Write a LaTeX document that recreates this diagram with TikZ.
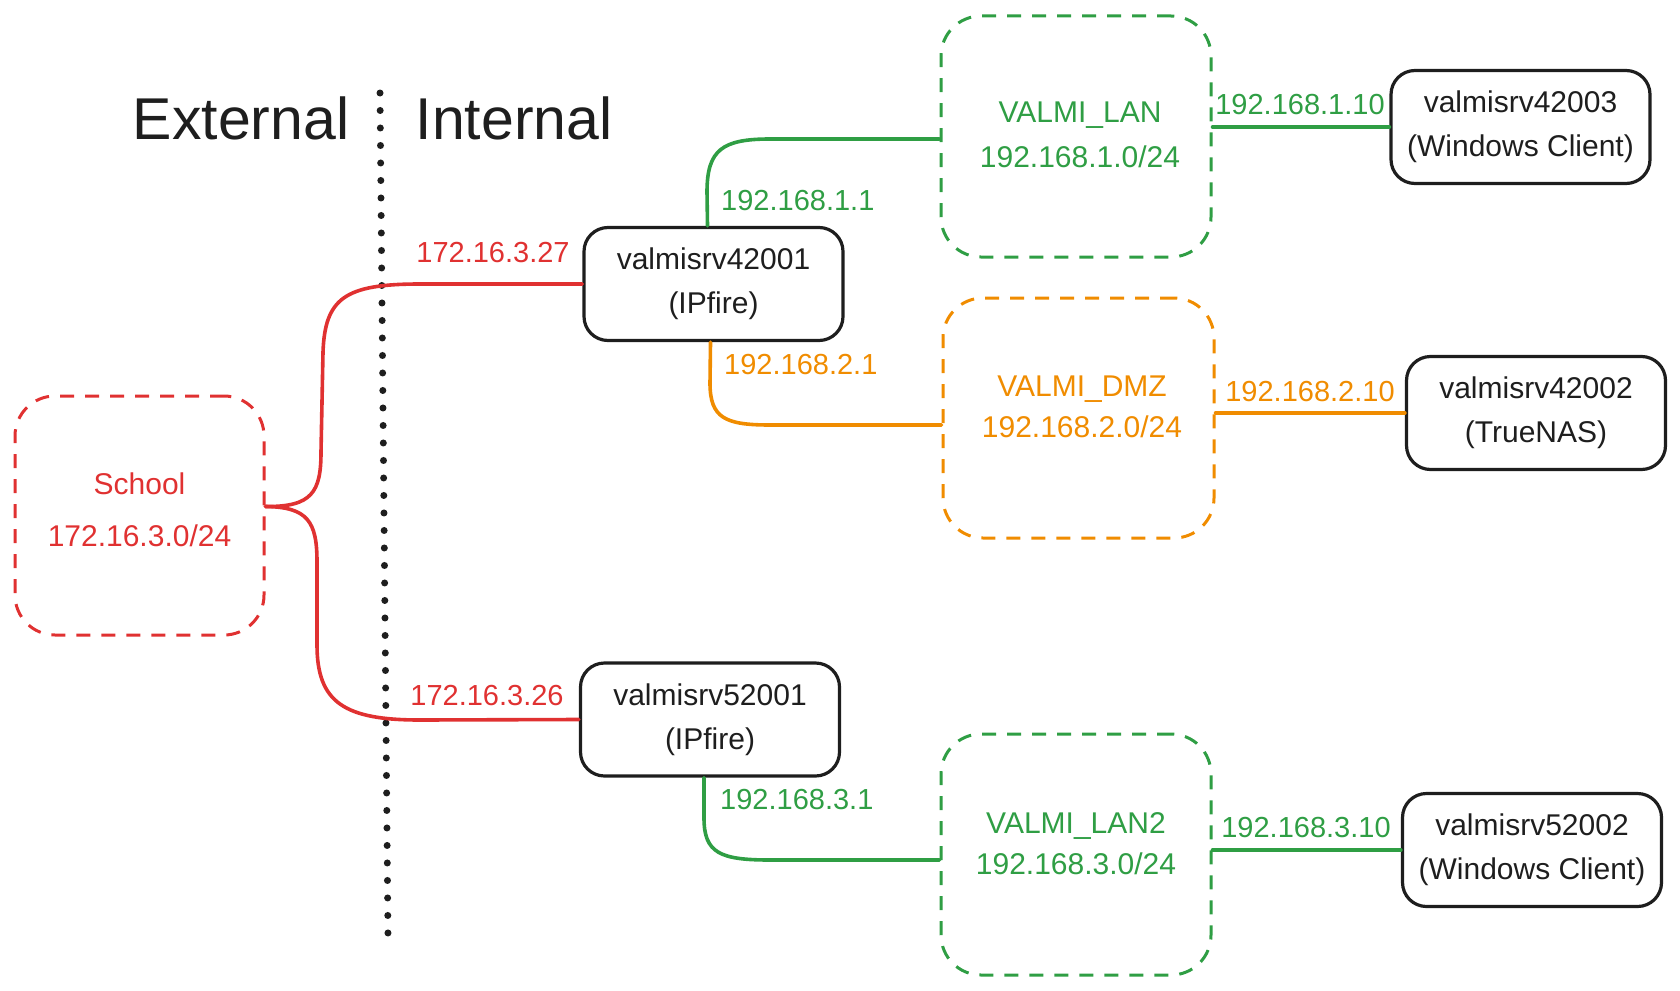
\documentclass[tikz,border=0pt]{standalone}
\usepackage{fontspec}
\setmainfont{Liberation Sans}
\definecolor{exred}{HTML}{E03131}
\definecolor{exgreen}{HTML}{2F9E44}
\definecolor{exorange}{HTML}{F08C00}
\definecolor{exblack}{HTML}{1E1E1E}
\tikzset{
  srv/.style={draw=exblack, line width=3.2pt, rounded corners=24pt, minimum width=259pt, minimum height=113pt,
    align=center, font=\fontsize{30}{44}\selectfont, text=exblack, inner sep=0pt},
  netbox/.style={line width=3pt, rounded corners=40pt, dash pattern=on 14pt off 11pt, inner sep=0pt},
  nettext/.style={align=center, font=\fontsize{30}{45}\selectfont, inner sep=0pt},
  ip/.style={font=\fontsize{29}{30}\selectfont, inner sep=0pt},
  title/.style={font=\fontsize{59}{60}\selectfont, text=exblack, inner sep=0pt},
  wire/.style={line width=3.6pt, line cap=round, line join=round},
}
\begin{document}
\begin{tikzpicture}[x=1pt,y=-1pt]
\useasboundingbox (0,0) rectangle (1680,990);
% titles and divider
\node[title] (ext) at (241,118) {External};
\node[title] (int) at (514,118) {Internal};
\coordinate (dtop) at (380,93);
\coordinate (dbot) at (388,937);
\draw[exblack, line width=7pt, line cap=round, dash pattern=on 0pt off 17.5pt] (dtop) -- (dbot);

% school
\node[netbox, draw=exred, minimum width=249pt, minimum height=239pt] (school) at (139.5,515.5) {};
\node[nettext, text=exred, font=\fontsize{30}{52}\selectfont] (schoolt) at (139.5,510) {School\\172.16.3.0/24};

% servers
\node[srv] (s1) at (713.5,284) {valmisrv42001\\(IPfire)};
\node[srv] (s2) at (710,719.5) {valmisrv52001\\(IPfire)};
\node[srv] (c3) at (1520.5,127) {valmisrv42003\\(Windows Client)};
\node[srv] (c2) at (1536,413) {valmisrv42002\\(TrueNAS)};
\node[srv] (c5) at (1532,850) {valmisrv52002\\(Windows Client)};

% networks
\node[netbox, draw=exgreen, minimum width=270pt, minimum height=241pt] (lan) at (1076,136.5) {};
\node[nettext, text=exgreen] (lant) at (1080,134.5) {VALMI\_LAN\\192.168.1.0/24};
\node[netbox, draw=exorange, minimum width=271pt, minimum height=240pt] (dmz) at (1078.5,418) {};
\node[nettext, text=exorange, font=\fontsize{30}{41}\selectfont] (dmzt) at (1082,406.5) {VALMI\_DMZ\\192.168.2.0/24};
\node[netbox, draw=exgreen, minimum width=270pt, minimum height=241pt] (lan2) at (1076,854.5) {};
\node[nettext, text=exgreen, font=\fontsize{30}{41}\selectfont] (lan2t) at (1076,843.5) {VALMI\_LAN2\\192.168.3.0/24};

% red wires
\coordinate (J) at ([yshift=9pt]school.east);
\draw[wire, exred] (J) .. controls (312,507) and (321,492) .. (321,452) -- (323,352)
  .. controls (325,298) and (345,284) .. (420,284) -- (s1.west);
\draw[wire, exred] (J) .. controls (308,507) and (317,522) .. (317,562) -- (317,645)
  .. controls (317,703) and (345,720) .. (420,720) -- (s2.west);
\node[ip, text=exred] (ip1) at (493,253) {172.16.3.27};
\node[ip, text=exred] (ip2) at (487,696) {172.16.3.26};

% green / orange wires from routers
\draw[wire, exgreen] ([xshift=-6pt]s1.north) -- (707,192) .. controls (707,150) and (722,139) .. (770,139) -- ([yshift=-2.5pt]lan.west);
\node[ip, text=exgreen, anchor=west] (ip3) at (721,201) {192.168.1.1};
\draw[wire, exorange] ([xshift=-3pt]s1.south) -- (710,383) .. controls (710,418) and (725,425) .. (770,425) -- ([yshift=-7pt]dmz.west);
\node[ip, text=exorange, anchor=west] (ip4) at (724,365) {192.168.2.1};
\draw[wire, exgreen] ([xshift=-6pt]s2.south) -- (704,818) .. controls (704,853) and (720,860) .. (770,860) -- ([yshift=-5.5pt]lan2.west);
\node[ip, text=exgreen, anchor=west] (ip5) at (720,800) {192.168.3.1};

% right wires
\draw[wire, exgreen] (c3.west -| lan.east) -- (c3.west);
\node[ip, text=exgreen] (ip6) at (1300,105) {192.168.1.10};
\draw[wire, exorange] (c2.west -| dmz.east) -- (c2.west);
\node[ip, text=exorange] (ip7) at (1310,392) {192.168.2.10};
\draw[wire, exgreen] (c5.west -| lan2.east) -- (c5.west);
\node[ip, text=exgreen] (ip8) at (1306,828) {192.168.3.10};
\end{tikzpicture}
\end{document}
